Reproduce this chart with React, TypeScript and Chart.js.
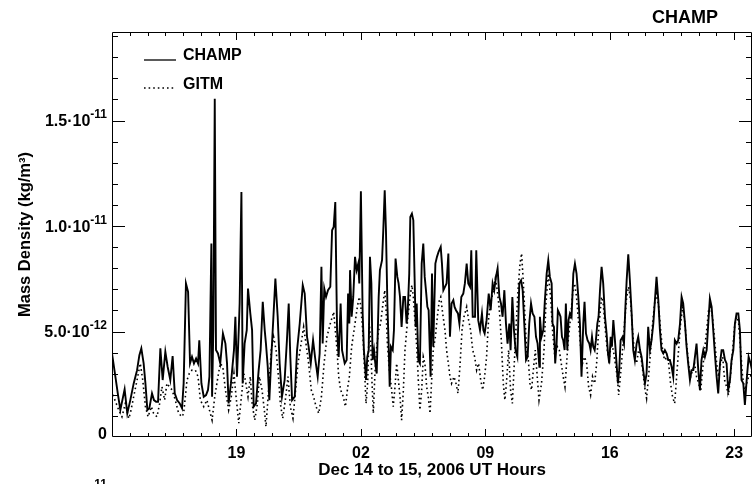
import React, { useEffect, useRef } from 'react';
import { Chart, registerables } from 'chart.js';

Chart.register(...registerables);

// Time in hours since Dec 14 00:00 UT; density in units of 1e-12 kg/m^3
const champHours = [
  12.00,12.19,12.34,12.47,12.71,12.86,13.03,13.22,13.41,13.54,13.65,13.78,13.88,13.99,14.10,14.25,14.36,14.48,14.59,14.72,
  14.85,15.00,15.13,15.28,15.41,15.53,15.66,15.81,15.94,16.03,16.16,16.28,16.39,16.50,16.61,16.73,16.84,16.91,17.03,17.16,
  17.29,17.40,17.48,17.59,17.63,17.70,17.78,17.85,17.96,18.09,18.24,18.38,18.47,18.56,18.69,18.86,18.94,19.03,19.13,19.18,
  19.28,19.35,19.46,19.58,19.65,19.78,19.88,19.97,20.10,20.25,20.36,20.48,20.59,20.66,20.76,20.85,20.96,21.06,21.19,21.32,
  21.43,21.56,21.71,21.84,21.94,22.03,22.13,22.28,22.41,22.56,22.73,22.84,22.97,23.06,23.18,23.31,23.44,23.57,23.68,23.78,
  23.85,23.94,24.04,24.15,24.28,24.38,24.47,24.56,24.66,24.75,24.86,24.94,25.09,25.20,25.28,25.35,
  25.39,25.48,25.57,25.67,25.76,25.85,25.91,26.00,26.10,26.17,26.29,26.36,26.44,26.51,26.59,26.66,26.74,26.81,26.89,27.00,
  27.07,27.19,27.26,27.34,27.41,27.49,27.56,27.62,27.69,27.79,27.86,27.95,28.05,28.12,28.20,28.29,28.39,28.48,28.57,28.63,
  28.72,28.78,28.87,28.95,29.02,29.08,29.14,29.23,29.32,29.42,29.51,29.59,29.66,29.74,29.81,29.92,30.00,30.07,30.19,30.28,
  30.37,30.49,30.56,30.64,30.73,30.82,30.92,31.01,31.10,31.20,31.27,31.35,31.46,31.54,31.65,31.76,31.85,31.95,32.04,32.14,
  32.21,32.29,32.42,32.49,32.60,32.70,32.81,32.89,32.96,33.07,33.19,33.30,33.41,33.50,33.60,33.69,33.79,33.88,33.97,34.07,
  34.16,34.25,34.35,34.42,34.52,34.61,34.70,34.80,34.91,35.01,35.10,35.19,35.29,35.38,35.47,35.57,35.66,35.76,35.85,35.94,36.04,
  36.07,36.16,36.26,36.35,36.45,36.54,36.63,36.73,36.78,36.86,36.93,37.01,37.08,37.16,37.23,37.31,37.38,37.46,37.53,37.61,
  37.68,37.76,37.85,37.95,38.04,38.13,38.23,38.32,38.41,38.51,38.58,38.66,38.75,38.85,38.92,39.00,39.07,39.15,39.22,39.30,
  39.37,39.45,39.54,39.63,39.73,39.82,39.90,39.97,40.05,40.12,40.20,40.29,40.38,40.46,40.53,40.61,40.72,40.80,40.87,40.95,
  41.04,41.13,41.23,41.32,41.41,41.51,41.60,41.70,41.79,41.88,41.98,42.07,42.16,42.26,42.35,42.45,42.54,42.63,42.73,42.82,
  42.91,43.01,43.10,43.20,43.29,43.38,43.48,43.57,43.66,43.76,43.85,43.95,44.04,44.13,44.23,44.32,44.41,44.51,44.60,44.70,
  44.79,44.88,44.98,45.07,45.16,45.26,45.35,45.45,45.54,45.63,45.73,45.82,45.91,46.01,46.10,46.20,46.29,46.38,46.48,46.57,
  46.66,46.76,46.85,46.95,47.04,47.13,47.23,47.32,47.41,47.51,47.60,47.70,47.81,47.92,48.00,
];

const champDensity = [
  3.96,2.86,1.99,1.28,2.26,1.12,1.75,2.54,3.17,3.88,4.20,3.49,2.54,1.28,1.36,2.07,1.75,1.67,1.67,4.20,
  2.70,4.04,3.33,2.70,3.84,2.07,1.75,1.59,1.36,2.54,7.28,6.88,3.49,3.80,3.49,3.72,3.49,4.59,2.54,1.91,
  1.99,2.23,2.86,9.17,1.91,5.07,16.04,4.12,3.96,3.49,4.91,4.43,3.49,1.59,2.54,4.12,5.70,2.86,5.07,6.33,
  11.62,2.54,4.43,5.07,7.04,5.86,5.07,1.44,1.59,3.17,4.12,6.41,5.07,4.43,3.33,1.75,3.80,5.38,7.51,5.70,
  3.49,1.91,2.70,4.59,6.33,3.80,1.75,1.91,4.12,5.38,7.20,6.80,4.75,4.28,3.49,4.59,3.65,2.86,3.96,8.07,
  4.43,7.04,6.64,6.96,7.12,9.80,9.96,11.14,5.07,3.80,6.33,4.12,3.49,3.65,6.80,5.38,
  7.91,5.70,6.64,8.54,7.91,8.22,7.28,11.65,5.86,4.12,2.70,3.80,4.12,8.54,7.28,3.65,4.12,3.49,3.01,6.64,
  7.91,8.38,9.80,11.70,9.80,6.33,4.43,2.38,4.28,4.12,5.07,8.46,7.59,7.28,6.64,5.22,6.64,6.64,5.38,5.86,
  7.75,10.43,10.59,10.27,7.59,5.22,6.33,3.65,3.49,8.22,9.17,7.59,6.96,6.17,6.01,2.86,7.75,4.28,8.22,8.54,
  8.78,9.01,8.22,6.96,7.12,7.28,8.70,4.75,6.33,6.49,6.17,6.01,5.86,5.38,6.64,6.80,7.28,8.22,7.28,7.12,
  8.85,5.70,5.70,8.85,5.54,5.07,5.86,5.07,4.91,5.54,6.80,6.01,7.28,6.96,7.59,7.99,6.64,6.33,5.70,6.96,
  5.38,4.43,5.38,4.12,6.64,5.07,4.12,3.80,7.28,7.43,6.96,5.38,3.65,3.80,5.38,6.33,5.86,5.70,4.75,4.43,3.33,
  5.70,4.75,5.07,6.49,7.75,8.38,7.59,7.28,5.38,5.22,3.49,4.43,6.01,5.86,5.70,4.75,4.59,4.12,6.33,4.12,
  5.54,5.86,5.70,7.75,8.22,7.75,6.64,5.38,2.86,5.38,6.41,4.91,4.59,4.43,4.12,4.75,4.28,4.12,4.59,5.38,
  5.70,6.96,8.07,7.28,5.70,4.91,3.96,3.49,4.75,4.28,5.54,4.59,3.49,2.54,3.17,4.59,4.75,4.43,6.01,7.43,
  8.66,7.43,5.86,4.12,3.65,4.43,4.75,4.12,3.80,3.17,2.54,3.01,5.22,4.12,4.59,5.38,6.49,7.59,6.49,5.07,
  4.12,3.96,4.12,3.96,3.65,3.65,3.33,2.86,4.59,4.43,4.59,5.38,6.64,6.33,5.38,4.28,3.49,2.70,3.17,3.17,
  3.80,4.43,3.17,2.23,3.65,4.12,3.80,4.12,5.38,6.57,6.17,5.07,3.96,2.86,2.07,3.49,4.12,4.12,3.65,3.49,
  2.23,2.70,3.65,4.12,5.38,5.86,5.86,5.07,2.70,2.54,1.52,2.70,3.80,3.49,3.17,
];

const gitmHours = [
  12.05,12.38,12.56,12.75,12.94,13.03,13.22,13.41,13.59,13.73,13.88,14.03,14.21,14.34,14.53,14.68,14.81,14.96,15.09,15.23,
  15.38,15.56,15.75,15.94,16.03,16.22,16.35,16.50,16.69,16.84,16.97,17.16,17.34,17.48,17.63,17.78,17.96,18.09,18.23,18.38,
  18.56,18.71,18.86,18.98,19.13,19.28,19.41,19.50,19.65,19.78,19.88,20.03,20.18,20.29,20.44,20.59,20.66,20.81,20.96,21.09,
  21.23,21.38,21.47,21.60,21.75,21.90,22.03,22.18,22.31,22.46,22.61,22.78,22.91,23.06,23.21,23.34,23.48,23.63,23.78,23.93,
  24.09,24.28,24.47,24.56,24.66,24.75,24.86,25.01,25.13,25.24,25.35,
  25.48,25.67,25.80,25.91,26.00,26.10,26.19,26.29,26.38,26.47,26.55,26.62,26.70,26.79,26.89,27.00,27.11,27.22,27.34,27.41,
  27.49,27.60,27.73,27.82,27.92,28.01,28.11,28.20,28.29,28.39,28.48,28.61,28.76,28.87,28.95,29.04,29.14,29.23,29.32,29.42,
  29.51,29.60,29.70,29.79,29.89,29.98,30.07,30.19,30.30,30.41,30.49,30.60,30.73,30.82,30.92,31.01,31.10,31.24,31.35,31.46,
  31.57,31.69,31.80,31.95,32.06,32.17,32.29,32.40,32.51,32.62,32.74,32.85,32.96,33.07,33.19,33.30,33.45,33.56,33.67,33.79,
  33.90,34.01,34.10,34.20,34.31,34.42,34.52,34.61,34.72,34.84,34.95,35.04,35.14,35.23,35.32,35.42,35.51,35.60,35.70,35.81,
  35.92,36.02,
  36.16,36.30,36.41,36.54,36.67,36.78,36.91,37.05,37.16,37.27,37.38,37.48,37.57,37.68,37.80,37.91,38.02,38.13,38.25,38.36,
  38.47,38.58,38.70,38.81,38.92,39.03,39.15,39.26,39.35,39.45,39.54,39.63,39.75,39.86,39.97,40.08,40.20,40.31,40.42,40.50,
  40.61,40.72,40.83,40.95,41.06,41.17,41.28,41.40,41.51,41.62,41.73,41.85,41.96,42.07,42.18,42.30,42.41,42.52,42.63,42.75,
  42.86,42.97,43.08,43.20,43.31,43.42,43.53,43.65,43.76,43.87,43.98,44.10,44.21,44.32,44.43,44.55,44.66,44.77,44.88,45.00,
  45.11,45.22,45.33,45.45,45.56,45.67,45.78,45.90,46.01,46.12,46.23,46.35,46.46,46.57,46.68,46.80,46.91,47.02,47.13,47.25,
  47.36,47.47,47.58,47.70,47.81,47.92,48.00,
];

const gitmDensity = [
  2.00,1.28,0.96,1.59,0.88,1.12,1.91,2.70,3.49,2.70,1.44,0.96,1.44,1.12,0.96,1.59,2.38,1.75,2.54,2.38,
  2.23,1.75,1.12,0.96,1.12,2.70,3.01,3.17,3.17,2.86,1.75,1.44,1.75,1.28,0.80,1.91,2.86,3.49,3.33,2.23,
  1.28,1.91,3.01,1.91,0.65,1.91,3.01,2.70,1.91,2.86,1.59,0.80,1.59,2.86,2.23,1.12,0.49,2.23,4.12,4.75,
  4.12,2.70,1.59,0.88,1.75,2.86,1.44,0.88,2.07,3.49,4.28,5.22,4.43,3.49,2.23,1.91,1.44,1.12,1.91,3.49,
  4.75,5.38,5.93,5.07,4.12,2.86,2.23,1.91,1.44,2.23,2.86,
  4.28,5.38,6.17,6.64,6.17,5.07,3.49,1.59,2.54,5.38,4.59,2.70,1.12,3.01,4.28,5.07,5.38,6.17,6.96,6.17,
  4.43,3.17,2.23,1.44,2.38,3.49,2.70,1.91,0.80,2.23,4.12,5.38,6.64,7.20,6.64,5.54,4.28,2.70,1.28,2.23,
  3.80,3.49,2.38,1.91,1.12,2.70,4.12,4.75,5.70,6.49,6.64,5.86,5.07,4.12,3.49,2.86,2.54,2.86,2.54,2.07,
  3.33,5.07,5.70,6.17,5.54,5.07,4.12,3.80,3.17,3.49,2.70,2.23,2.86,3.80,5.70,6.33,6.96,7.51,6.96,6.01,
  4.59,2.54,1.75,2.70,4.12,2.23,1.59,3.17,5.07,6.96,8.22,8.70,7.28,5.70,4.12,3.65,2.54,2.23,3.17,4.12,
  2.86,1.75,
  2.54,4.12,6.33,7.75,6.64,5.07,3.80,4.28,4.12,3.49,2.86,2.38,3.49,4.75,5.70,6.80,7.28,6.64,5.38,4.28,
  3.49,3.80,3.49,2.38,1.99,2.86,2.54,3.49,4.75,5.86,6.64,6.33,5.07,4.12,3.65,4.43,4.12,3.49,2.86,1.99,
  3.01,4.12,5.38,6.64,7.12,6.49,5.07,3.80,3.49,4.12,3.96,3.17,2.38,1.83,2.86,4.12,5.38,6.33,6.80,6.17,
  5.07,4.12,3.65,3.80,3.49,2.54,1.91,1.59,2.86,4.12,5.38,6.17,5.54,4.43,3.49,2.86,3.17,3.49,2.86,2.54,
  2.15,3.17,4.12,5.07,6.01,6.17,5.70,4.59,3.49,2.86,3.49,3.80,2.70,2.38,1.99,3.01,4.12,5.22,5.70,5.38,
  4.12,2.86,2.23,2.54,2.86,2.86,3.17,
];

const DENSITY_UNIT = 1e-12;
const xTickHours = [19, 26, 33, 40, 47];
const xTickLabels = ['19', '02', '09', '16', '23'];
const yTickValues = [0, 5e-12, 1e-11, 1.5e-11];
const yTickMantissas = ['0', '5.0', '1.0', '1.5'];
const yTickExponents = ['', '-12', '-11', '-11'];
const X_MIN = 12;
const X_MAX = 48;
const Y_MIN = 0;
const Y_MAX = 1.92e-11;
const Y_MINOR_STEP = 1e-12;
const FONT = '"Liberation Sans", Arial, Helvetica, sans-serif';

const idlPlugin = {
  id: 'idlFrame',
  afterDraw(chart: any) {
    const { ctx, chartArea, scales } = chart;
    const { left, right, top, bottom } = chartArea;
    const xs = scales.x;
    const ys = scales.y;
    ctx.save();
    ctx.strokeStyle = '#000';
    ctx.lineWidth = 1;
    ctx.beginPath();
    ctx.rect(left + 0.5, top + 0.5, right - left - 1, bottom - top - 1);
    ctx.stroke();

    ctx.beginPath();
    for (let h = X_MIN + 1; h < X_MAX; h++) {
      const px = Math.round(xs.getPixelForValue(h)) + 0.5;
      const len = xTickHours.includes(h) ? 8 : 4;
      ctx.moveTo(px, bottom);
      ctx.lineTo(px, bottom - len);
      ctx.moveTo(px, top);
      ctx.lineTo(px, top + len);
    }
    for (let k = 1; k * Y_MINOR_STEP < Y_MAX; k++) {
      const py = Math.round(ys.getPixelForValue(k * Y_MINOR_STEP)) + 0.5;
      const len = k % 5 === 0 ? 13 : 6;
      ctx.moveTo(left, py);
      ctx.lineTo(left + len, py);
      ctx.moveTo(right, py);
      ctx.lineTo(right - len, py);
    }
    ctx.stroke();

    // y tick labels with superscript exponents
    ctx.fillStyle = '#000';
    ctx.textAlign = 'right';
    ctx.textBaseline = 'alphabetic';
    const labelRight = left - 5;
    yTickValues.forEach((v, i) => {
      const py = ys.getPixelForValue(v);
      const exp = yTickExponents[i];
      if (!exp) {
        ctx.font = `bold 16px ${FONT}`;
        ctx.fillText(yTickMantissas[i], labelRight, py + 1.5);
      } else {
        ctx.font = `bold 12px ${FONT}`;
        ctx.fillText(exp, labelRight, py - 2.5);
        const w = ctx.measureText(exp).width;
        ctx.font = `bold 16px ${FONT}`;
        ctx.fillText(yTickMantissas[i] + '\u00B710', labelRight - w, py + 5.5);
      }
    });

    // legend inside plot
    const ds = chart.data.datasets;
    ctx.textAlign = 'left';
    ctx.font = `bold 16px ${FONT}`;
    ds.forEach((d: any, i: number) => {
      const ly = i === 0 ? 60 : 88;
      ctx.save();
      ctx.strokeStyle = d.borderColor;
      ctx.lineWidth = i === 0 ? 1.3 : d.borderWidth;
      ctx.setLineDash(d.borderDash || []);
      ctx.beginPath();
      ctx.moveTo(left + 32, ly);
      ctx.lineTo(left + 64, ly);
      ctx.stroke();
      ctx.restore();
      ctx.fillText(d.label, left + 71, ly + (i === 0 ? 0 : 1));
    });

    // panel title
    ctx.font = `bold 18px ${FONT}`;
    ctx.textAlign = 'right';
    ctx.fillText('CHAMP', 718, 22.5);

    // cut-off exponent from the panel below
    ctx.font = `bold 12px ${FONT}`;
    ctx.textBaseline = 'top';
    ctx.fillText('11', labelRight, 478.5);
    ctx.restore();
  },
};

export default function App() {
  const ref = useRef<HTMLCanvasElement>(null);
  useEffect(() => {
    if (!ref.current) return;
    const chart = new Chart(ref.current, {
      type: 'line',
      data: {
        datasets: [
          {
            label: 'CHAMP',
            data: champHours.map((h, i) => ({ x: h, y: champDensity[i] * DENSITY_UNIT })),
            borderColor: '#000',
            borderWidth: 1.9,
            pointRadius: 0,
            tension: 0,
            fill: false,
          },
          {
            label: 'GITM',
            data: gitmHours.map((h, i) => ({ x: h, y: gitmDensity[i] * DENSITY_UNIT })),
            borderColor: '#000',
            borderWidth: 1.6,
            borderDash: [1.6, 3],
            pointRadius: 0,
            tension: 0,
            fill: false,
          },
        ],
      },
      options: {
        responsive: false,
        animation: false,
        devicePixelRatio: 1,
        layout: { padding: { top: 32, left: 0, right: 0, bottom: 0 } },
        plugins: { legend: { display: false }, tooltip: { enabled: false }, title: { display: false } },
        scales: {
          x: {
            type: 'linear',
            min: X_MIN,
            max: X_MAX,
            afterBuildTicks: (scale: any) => {
              scale.ticks = xTickHours.map((v) => ({ value: v }));
            },
            afterFit: (scale: any) => {
              scale.height = 47;
            },
            grid: { display: false, drawTicks: false },
            border: { display: false },
            ticks: {
              autoSkip: false,
              maxRotation: 0,
              padding: 7,
              color: '#000',
              font: { family: FONT, size: 16, weight: 'bold' },
              callback: (v: any) => {
                const idx = xTickHours.indexOf(Number(v));
                return idx >= 0 ? xTickLabels[idx] : '';
              },
            },
            title: {
              display: true,
              text: 'Dec 14 to 15, 2006 UT Hours',
              color: '#000',
              font: { family: FONT, size: 17, weight: 'bold' },
              padding: { top: 0, bottom: 3 },
            },
          },
          y: {
            type: 'linear',
            min: Y_MIN,
            max: Y_MAX,
            afterBuildTicks: (scale: any) => {
              scale.ticks = yTickValues.map((v) => ({ value: v }));
            },
            afterFit: (scale: any) => {
              scale.width = 112;
            },
            grid: { display: false, drawTicks: false },
            border: { display: false },
            ticks: { display: false },
            title: {
              display: true,
              text: 'Mass Density (kg/m\u00B3)',
              color: '#000',
              font: { family: FONT, size: 16.5, weight: 'bold' },
              padding: { top: 16, bottom: 0 },
            },
          },
        },
      },
      plugins: [idlPlugin],
    } as any);
    return () => chart.destroy();
  }, []);
  return (
    <div style={{ position: 'absolute', left: 0, top: 0, width: 752, height: 484, background: '#fff' }}>
      <canvas ref={ref} width={752} height={484} style={{ display: 'block' }} />
    </div>
  );
}
